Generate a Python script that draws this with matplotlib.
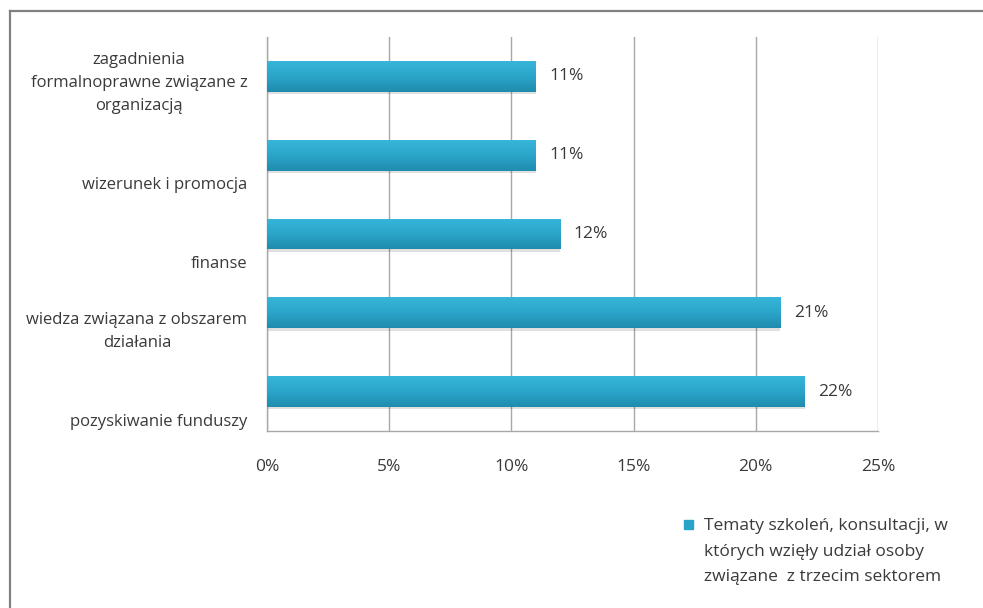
import numpy as np
import matplotlib.pyplot as plt
import matplotlib.transforms as mtransforms
from matplotlib.lines import Line2D
from matplotlib.patches import Rectangle

plt.rcParams['font.family'] = ['Open Sans', 'DejaVu Sans']

# topics, top to bottom
categories = ['zagadnienia\nformalnoprawne związane z\norganizacją',
              'wizerunek i promocja',
              'finanse',
              'wiedza związana z obszarem\ndziałania',
              'pozyskiwanie funduszy']
values = [11, 11, 12, 21, 22]   # percent
xticks = [0, 5, 10, 15, 20, 25]
legend_label = 'Tematy szkoleń, konsultacji, w\nktórych wzięły udział osoby\nzwiązane  z trzecim sektorem'

text_col = '#3a3a3a'
grid_col = '#a8a8a8'
bar_col = '#2aa3c8'

fig = plt.figure(figsize=(9.83, 6.08), dpi=100)
ax = fig.add_axes([0.2716, 0.2911, 0.6216, 0.648])

ypos = np.arange(len(categories))

# soft shadow under the bars
ax.barh(ypos + 0.03, values, height=0.39, color='#000000', alpha=0.12, zorder=2)
bars = ax.barh(ypos, values, height=0.39, color=bar_col, zorder=3)

# vertical gradient inside each bar, lighter on top
grad = np.linspace(0, 1, 64).reshape(-1, 1)
cmap = plt.matplotlib.colors.LinearSegmentedColormap.from_list('bar', ['#36b6da', '#2ba5ca', '#1f8cad'])
for b in bars:
    x0, y0 = b.get_x(), b.get_y()
    w, h = b.get_width(), b.get_height()
    im = ax.imshow(grad, cmap=cmap, aspect='auto', extent=(x0, x0 + w, y0 + h, y0),
                   zorder=4, interpolation='bicubic')
    im.set_clip_path(b)

ax.set_xlim(0, 25)
ax.set_ylim(len(categories) - 0.5, -0.5)
ax.set_xticks(xticks)
ax.set_xticklabels([f'{t}%' for t in xticks], fontsize=12.5, color=text_col)
ax.tick_params(axis='x', length=0, pad=20)
ax.set_yticks([])
ax.grid(axis='x', color=grid_col, linewidth=1.0, zorder=0)
for s in ['top', 'right']:
    ax.spines[s].set_visible(False)
for s in ['left', 'bottom']:
    ax.spines[s].set_color(grid_col)
    ax.spines[s].set_linewidth(1.0)

# value labels at bar ends
for y, v in zip(ypos, values):
    ax.text(v + 0.55, y, f'{v}%', va='center', ha='left', fontsize=12.5, color=text_col, zorder=5)

# category labels sit a bit below each bar
off = mtransforms.ScaledTranslation(0, -0.38, fig.dpi_scale_trans)
trans = mtransforms.blended_transform_factory(ax.transAxes, ax.transData) + off
for y, c in zip(ypos, categories):
    ax.text(-0.032, y, c, transform=trans, ha='right', va='bottom', multialignment='center',
            fontsize=12, color=text_col, linespacing=1.6)

# legend
fig.patches.append(Rectangle((684 / 983, 1 - 529 / 608), 9 / 983, 9 / 608,
                             transform=fig.transFigure, color=bar_col))
fig.text(704 / 983, 1 - 518 / 608, legend_label, ha='left', va='top', fontsize=12.5,
         color=text_col, linespacing=1.8)

# outer frame
fig.add_artist(Line2D([10 / 983, 10 / 983], [0, 1 - 11 / 608], transform=fig.transFigure,
                      color='#808080', linewidth=1.6))
fig.add_artist(Line2D([10 / 983, 1], [1 - 11 / 608, 1 - 11 / 608], transform=fig.transFigure,
                      color='#808080', linewidth=1.6))

fig.savefig('out.png', dpi=100)
